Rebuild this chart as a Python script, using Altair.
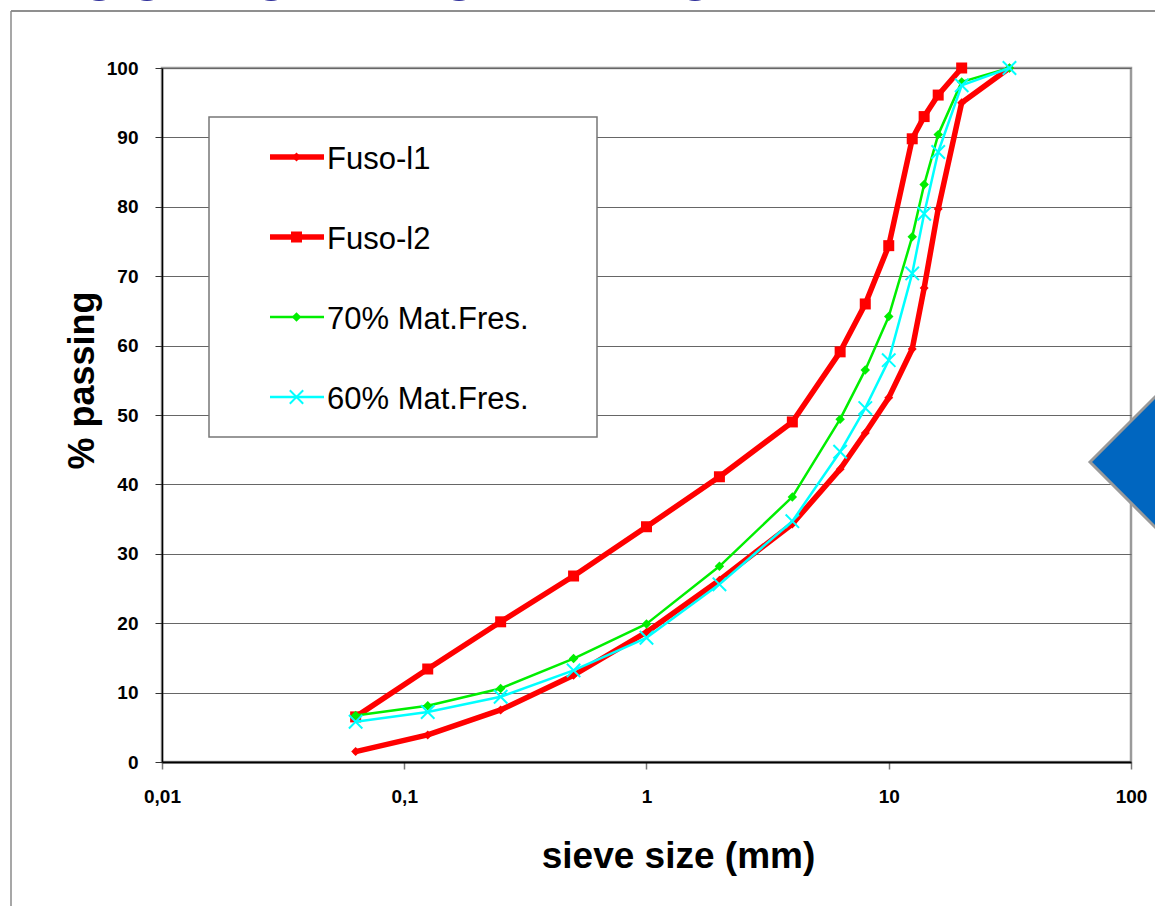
import altair as alt
import pandas as pd

# ---------------- data ----------------
sieve = [0.063, 0.125, 0.25, 0.5, 1, 2, 4, 6.3, 8, 10, 12.5, 14, 16, 20, 31.5]
fuso_l1 = [1.5, 3.9, 7.5, 12.5, 18.7, 26.2, 34.3, 42.2, 47.4, 52.5, 59.5, 68.3, 79.7, 95.0, 100]
fuso_l2 = [6.5, 13.4, 20.2, 26.8, 33.9, 41.1, 49.0, 59.1, 66.0, 74.4, 89.8, 93.0, 96.1, 100]
mat70 = [6.7, 8.1, 10.6, 14.9, 19.9, 28.2, 38.2, 49.4, 56.5, 64.2, 75.7, 83.2, 90.4, 98.0, 100]
mat60 = [5.8, 7.2, 9.4, 13.2, 17.9, 25.6, 34.7, 44.7, 51.0, 57.9, 70.4, 79.0, 87.9, 97.5, 100]
series_names = ["Fuso-l1", "Fuso-l2", "70% Mat.Fres.", "60% Mat.Fres."]
series_values = [fuso_l1, fuso_l2, mat70, mat60]
x_tick_values = [0.01, 0.1, 1, 10, 100]
x_tick_labels = ["0,01", "0,1", "1", "10", "100"]
y_tick_values = list(range(0, 101, 10))

# ---------------- styles ----------------
FONT = "Liberation Sans"
XSHAPE = "M-1,-1L1,1M-1,1L1,-1"
styles = [
    dict(color="#ff0000", width=5.5, shape="diamond", size=80, filled=True, sw=0),
    dict(color="#ff0000", width=5.5, shape="square", size=121, filled=True, sw=0),
    dict(color="#00ee00", width=2.5, shape="diamond", size=90, filled=True, sw=0),
    dict(color="#00ffff", width=2.5, shape=XSHAPE, size=180, filled=False, sw=2),
]

W, H = 969, 694
PAD = dict(left=162, top=68, right=24, bottom=144)

label_expr = f"'{x_tick_labels[-1]}'"
for v, l in reversed(list(zip(x_tick_values[:-1], x_tick_labels[:-1]))):
    label_expr = f"abs(datum.value - {v}) < {v * 1e-3} ? '{l}' : ({label_expr})"

x_enc = alt.X(
    "size:Q",
    scale=alt.Scale(type="log", domain=[0.01, 100], nice=False),
    axis=alt.Axis(
        values=x_tick_values, labelExpr=label_expr, grid=False,
        domainColor="#000000", domainWidth=2, tickColor="#777777", tickSize=7, tickWidth=1.5,
        labelFont=FONT, labelFontSize=19, labelFontWeight="bold", labelColor="#000000",
        labelPadding=18, labelFlush=False, labelOverlap=False,
        title="sieve size (mm)", titleFont=FONT, titleFontSize=37, titleFontWeight="bold",
        titleColor="#000000", titleX=516, titleY=105, titleBaseline="alphabetic", titleAlign="center",
    ),
)
y_enc = alt.Y(
    "passing:Q",
    scale=alt.Scale(domain=[0, 100], nice=False),
    axis=alt.Axis(
        values=y_tick_values, grid=True, gridColor="#666666", gridWidth=1,
        domainColor="#000000", domainWidth=1.5, tickColor="#333333", tickSize=7,
        labelFont=FONT, labelFontSize=19, labelFontWeight="bold", labelColor="#000000",
        labelPadding=17, labelFlush=False, labelOverlap=False,
        title="% passing", titleFont=FONT, titleFontSize=36, titleFontWeight="bold",
        titleColor="#000000", titleAngle=270, titleX=-69, titleY=312,
        titleBaseline="alphabetic", titleAlign="center",
    ),
)

one = pd.DataFrame({"a": [0]})
layers = []

# decorative blue glyph bottoms at top edge
for cx in [-63, -15, 109, 297, 533]:
    layers.append(
        alt.Chart(one).mark_point(shape="circle", filled=True, color="#2e2e9a", size=2376, opacity=1)
        .encode(x=alt.value(cx), y=alt.value(-91.5))
    )
# outer frame
layers.append(alt.Chart(one).mark_rule(color="#6a6a6a", strokeWidth=1.5)
              .encode(x=alt.value(-151), x2=alt.value(W + PAD["right"]), y=alt.value(-57)))
layers.append(alt.Chart(one).mark_rule(color="#8a8a8a", strokeWidth=1.5)
              .encode(x=alt.value(-151), y=alt.value(-57), y2=alt.value(H + PAD["bottom"])))

# series
for name, vals, st in zip(series_names, series_values, styles):
    df = pd.DataFrame({"size": sieve[: len(vals)], "passing": vals})
    layers.append(
        alt.Chart(df).mark_line(color=st["color"], strokeWidth=st["width"], strokeJoin="round", strokeCap="round")
        .encode(x=x_enc, y=y_enc)
    )
    layers.append(
        alt.Chart(df).mark_point(shape=st["shape"], size=st["size"], filled=st["filled"],
                                 color=st["color"], strokeWidth=st["sw"] if st["sw"] else 1, opacity=1)
        .encode(x=x_enc, y=y_enc)
    )

# legend box
layers.append(alt.Chart(one).mark_rect(fill="#ffffff", stroke="#777777", strokeWidth=1.5)
              .encode(x=alt.value(47), x2=alt.value(435), y=alt.value(49), y2=alt.value(369)))
for i, (name, st) in enumerate(zip(series_names, styles)):
    ly = 89 + 80 * i
    layers.append(alt.Chart(one).mark_rule(color=st["color"], strokeWidth=st["width"])
                  .encode(x=alt.value(108), x2=alt.value(162), y=alt.value(ly)))
    layers.append(alt.Chart(one).mark_point(shape=st["shape"], size=st["size"], filled=st["filled"],
                                            color=st["color"], strokeWidth=st["sw"] if st["sw"] else 1, opacity=1)
                  .encode(x=alt.value(134.5), y=alt.value(ly)))
    layers.append(alt.Chart(one).mark_text(text=name, font=FONT, fontSize=31, color="#000000",
                                           align="left", baseline="alphabetic")
                  .encode(x=alt.value(165), y=alt.value(ly + 12)))

# blue diamond on the right
layers.append(alt.Chart(one).mark_point(shape="diamond", filled=True, fill="#0066c0", stroke="#9a9a9a",
                                        strokeWidth=3, size=32400, opacity=1)
              .encode(x=alt.value(1018), y=alt.value(394)))

chart = alt.layer(*layers).properties(
    width=W, height=H, padding=PAD, autosize=alt.AutoSizeParams(type="none"),
    background="#ffffff",
).configure_view(stroke="#9a9a9a", strokeWidth=2.5)

chart.save("out.html", embed_options={"renderer": "svg", "actions": False})
